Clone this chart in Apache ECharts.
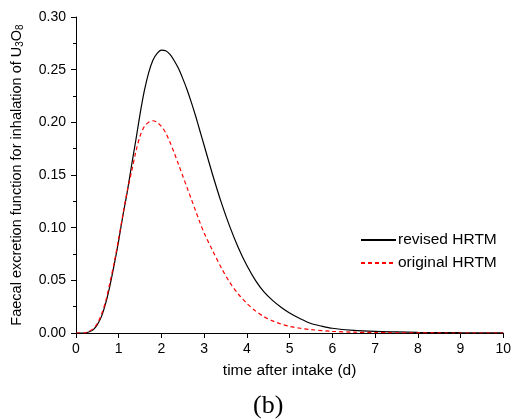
<!DOCTYPE html>
<html>
<head>
<meta charset="utf-8">
<script src="https://cdn.jsdelivr.net/npm/echarts@6/dist/echarts.min.js"></script>
<style>
html,body{margin:0;padding:0;background:#fff;}
#chart{width:514px;height:419px;}
</style>
</head>
<body>
<div id="chart"></div>
<script>
var xTicks = [0,1,2,3,4,5,6,7,8,9,10];
var revisedX = [0,0.2,0.3,0.4,0.5,0.6,0.7,0.8,0.9,1.0,1.1,1.2,1.3,1.4,1.5,1.6,1.7,1.8,1.9,2.0,2.1,2.2,2.3,2.4,2.5,2.6,2.7,2.8,2.9,3.0,3.2,3.4,3.6,3.8,4.0,4.2,4.4,4.6,4.8,5.0,5.25,5.5,5.75,6.0,6.5,7.0,7.5,8.0,9.0,10.0];
var revisedY = [0,0,0.001,0.003,0.008,0.016,0.029,0.046,0.066,0.088,0.112,0.134,0.159,0.183,0.208,0.230,0.247,0.259,0.2655,0.2685,0.268,0.2645,0.2585,0.251,0.2415,0.231,0.219,0.206,0.192,0.178,0.150,0.124,0.101,0.081,0.064,0.050,0.039,0.031,0.0245,0.019,0.0135,0.009,0.0065,0.0045,0.0025,0.0015,0.001,0.0006,0.0003,0.0001];
var originalX = [0,0.2,0.3,0.4,0.5,0.6,0.7,0.8,0.9,1.0,1.1,1.2,1.3,1.4,1.5,1.6,1.7,1.8,1.9,2.0,2.1,2.2,2.3,2.4,2.5,2.6,2.7,2.8,2.9,3.0,3.2,3.4,3.6,3.8,4.0,4.2,4.4,4.6,4.8,5.0,5.25,5.5,6.0,6.5,7.0,8.0,9.0,10.0];
var originalY = [0,0,0.0015,0.004,0.009,0.018,0.031,0.049,0.068,0.090,0.113,0.135,0.153,0.172,0.187,0.196,0.200,0.2015,0.200,0.196,0.190,0.181,0.171,0.160,0.149,0.138,0.127,0.116,0.105,0.095,0.078,0.062,0.048,0.037,0.028,0.021,0.0155,0.0115,0.0085,0.0063,0.0045,0.0032,0.0016,0.0008,0.0004,0.0001,0,0];
var seriesNames = ['revised HRTM','original HRTM'];

function zip(xs, ys){ return xs.map(function(x,i){ return [x, ys[i]]; }); }

var font = 'Liberation Sans, Arial, sans-serif';
var chart = echarts.init(document.getElementById('chart'));
chart.setOption({
  animation: false,
  backgroundColor: '#fff',
  grid: {left: 76, right: 8, top: 17, bottom: 86},
  legend: {
    orient: 'vertical', left: 355, top: 227,
    itemWidth: 35, itemHeight: 12, itemGap: 7,
    itemStyle: {opacity: 0},
    textStyle: {fontFamily: font, fontSize: 15.5, color: '#000', padding: [0,0,0,-3]},
    data: seriesNames
  },
  xAxis: {
    type: 'value', min: 0, max: 10, interval: 1,
    name: 'time after intake (d)', nameLocation: 'middle', nameGap: 30,
    nameTextStyle: {fontFamily: font, fontSize: 15.5, color: '#000'},
    axisLine: {show: true, onZero: false, lineStyle: {color: '#000', width: 1}},
    axisTick: {show: true, length: 5, lineStyle: {color: '#000'}},
    axisLabel: {fontFamily: font, fontSize: 14, color: '#000', margin: 9,
      formatter: function(v){ return xTicks.indexOf(v) >= 0 ? String(v) : ''; }},
    splitLine: {show: false}
  },
  yAxis: {
    type: 'value', min: 0, max: 0.3, interval: 0.05,
    name: 'Faecal excretion function for inhalation of U{s|3}O{s|8}',
    nameLocation: 'middle', nameGap: 51, nameRotate: 90,
    nameTextStyle: {fontFamily: font, fontSize: 14.5, color: '#000',
      rich: {s: {fontFamily: font, fontSize: 10, color: '#000', verticalAlign: 'bottom', padding: [6,0,0,0]}}},
    axisLine: {show: true, lineStyle: {color: '#000', width: 1}},
    axisTick: {show: true, length: 5, lineStyle: {color: '#000'}},
    minorTick: {show: true, splitNumber: 2, length: 3, lineStyle: {color: '#000'}},
    axisLabel: {fontFamily: font, fontSize: 14, color: '#000', margin: 10,
      formatter: function(v){ return v.toFixed(2); }},
    splitLine: {show: false}
  },
  series: [
    {name: seriesNames[0], type: 'line', data: zip(revisedX, revisedY), showSymbol: false, symbol: 'none', smooth: 0.3,
      lineStyle: {color: '#000', width: 1.2}, itemStyle: {color: '#000'}},
    {name: seriesNames[1], type: 'line', data: zip(originalX, originalY), showSymbol: false, symbol: 'none', smooth: 0.3,
      lineStyle: {color: '#ff0000', width: 1.2, type: [4,3]}, itemStyle: {color: '#ff0000'}}
  ],
  graphic: [{
    type: 'text', left: 253, top: 393,
    style: {text: '(b)', font: '26px "Liberation Serif", "Times New Roman", serif', fill: '#000'}
  }]
});
</script>
</body>
</html>
